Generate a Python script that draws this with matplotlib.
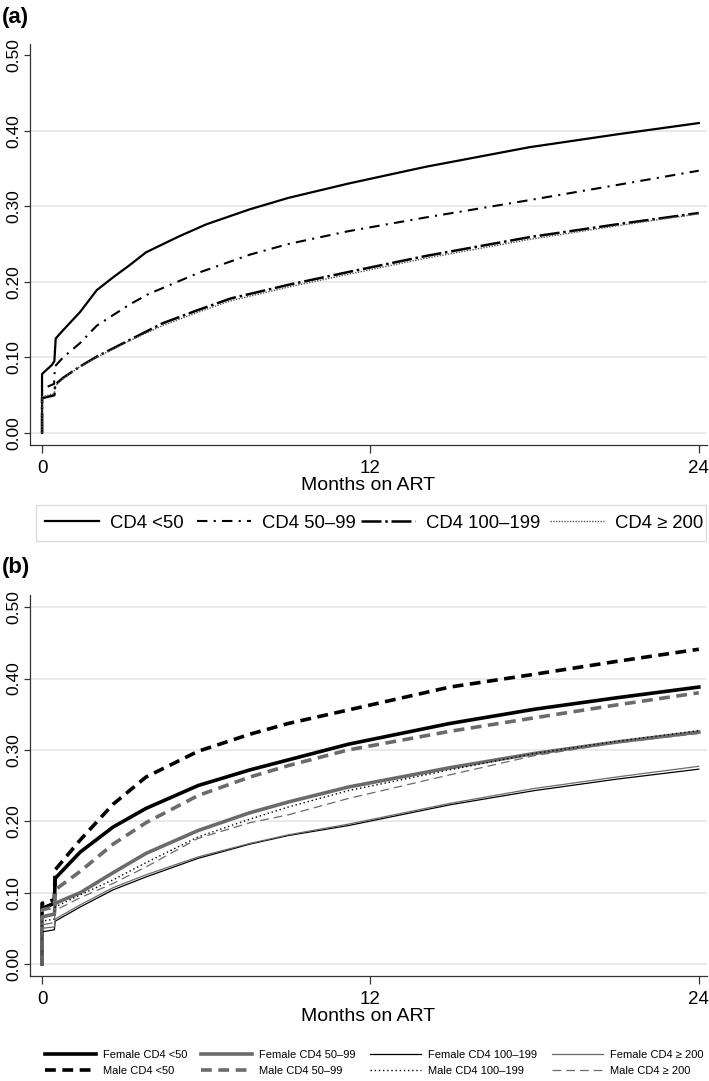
import numpy as np
import matplotlib
matplotlib.use("Agg")
import matplotlib.pyplot as plt
from matplotlib.patches import Rectangle

plt.rcParams['font.family'] = ['Liberation Sans', 'DejaVu Sans']

# ---- panel (a): cumulative incidence by baseline CD4 ----
m_lt50 = [0, 0, 0.36, 0.45, 0.5, 0.77, 1.39, 2.0, 2.6, 3.2, 3.8, 5.0, 6.0, 7.6, 9.0, 11.2, 14.0, 17.8, 21.0, 24.0]
v_lt50 = [0, 0.078, 0.09, 0.095, 0.125, 0.136, 0.16, 0.189, 0.206, 0.222, 0.239, 0.260, 0.276, 0.296, 0.311, 0.330, 0.352, 0.378, 0.395, 0.410]

m_50_99 = [0, 0, 0.44, 0.47, 0.77, 1.39, 2.0, 3.2, 3.9, 5.8, 7.6, 9.0, 11.2, 14.0, 17.8, 21.0, 24.0]
v_50_99 = [0, 0.058, 0.065, 0.088, 0.10, 0.119, 0.142, 0.170, 0.184, 0.213, 0.236, 0.250, 0.267, 0.285, 0.308, 0.328, 0.347]

m_100_199 = [0, 0, 0.45, 0.48, 0.77, 1.39, 2.0, 3.2, 4.4, 5.65, 6.9, 9.0, 11.2, 14.0, 17.8, 21.0, 24.0]
v_100_199 = [0, 0.046, 0.05, 0.064, 0.073, 0.088, 0.101, 0.123, 0.145, 0.162, 0.178, 0.196, 0.213, 0.234, 0.259, 0.276, 0.291]
v_ge200 = [0, 0.048, 0.052, 0.062, 0.072, 0.088, 0.100, 0.122, 0.142, 0.159, 0.175, 0.193, 0.210, 0.231, 0.256, 0.274, 0.290]

# ---- panel (b): by sex and baseline CD4 ----
mb = [0, 0, 0.45, 0.48, 1.4, 2.6, 3.8, 5.7, 7.6, 9.0, 11.2, 14.9, 18.0, 21.0, 24.0]
f_lt50 = [0, 0.078, 0.085, 0.12, 0.157, 0.192, 0.218, 0.250, 0.272, 0.286, 0.308, 0.337, 0.357, 0.373, 0.388]
m_lt50b = [0, 0.085, 0.09, 0.132, 0.174, 0.224, 0.262, 0.298, 0.322, 0.337, 0.356, 0.388, 0.406, 0.424, 0.441]
f_50_99 = [0, 0.066, 0.07, 0.085, 0.10, 0.128, 0.155, 0.187, 0.212, 0.227, 0.248, 0.275, 0.295, 0.311, 0.325]
m_50_99b = [0, 0.076, 0.08, 0.104, 0.13, 0.168, 0.198, 0.236, 0.262, 0.278, 0.300, 0.326, 0.345, 0.363, 0.380]
f_100_199 = [0, 0.045, 0.048, 0.06, 0.08, 0.104, 0.122, 0.148, 0.168, 0.18, 0.194, 0.223, 0.243, 0.259, 0.273]
m_100_199b = [0, 0.06, 0.063, 0.08, 0.097, 0.118, 0.142, 0.178, 0.203, 0.22, 0.243, 0.272, 0.295, 0.312, 0.327]
f_ge200 = [0, 0.05, 0.052, 0.063, 0.083, 0.107, 0.125, 0.15, 0.169, 0.181, 0.196, 0.225, 0.246, 0.262, 0.277]
m_ge200b = [0, 0.055, 0.058, 0.075, 0.093, 0.113, 0.136, 0.176, 0.198, 0.209, 0.232, 0.265, 0.292, 0.31, 0.323]

yticks = [0.0, 0.1, 0.2, 0.3, 0.4, 0.5]
xticks = [0, 12, 24]

GRAY = '#6b6b6b'

fig = plt.figure(figsize=(7.09, 10.81), dpi=100)
W, H = 709, 1081


def px_axes(x0, y0, x1, y1):
    return fig.add_axes([x0 / W, 1 - y1 / H, (x1 - x0) / W, (y1 - y0) / H])


def style(ax, ylo, yhi, grid_vals):
    ax.set_xlim(-0.44, 24.3)
    ax.set_ylim(ylo, yhi)
    for g in grid_vals:
        ax.axhline(g, color='#e4e4e4', lw=1.1, zorder=0)
    for s in ['top', 'right']:
        ax.spines[s].set_visible(False)
    for s in ['left', 'bottom']:
        ax.spines[s].set_color('#333333')
        ax.spines[s].set_linewidth(0.9)
    ax.set_yticks(yticks)
    ax.set_yticklabels(['%.2f' % t for t in yticks], rotation=90, va='center', fontsize=12.5)
    ax.set_xticks(xticks)
    ax.set_xticklabels([str(t) for t in xticks], fontsize=13.5)
    ax.tick_params(axis='y', length=4, width=0.9, color='#333333', pad=2)
    ax.tick_params(axis='x', length=6, width=0.9, color='#333333', pad=5)
    ax.set_xlabel('Months on ART', fontsize=14, labelpad=0)


def legend_columns(handles, labels, per_col, xs, y, **kw):
    # one small legend per column so each column sits where it does in the original
    for i, x in enumerate(xs):
        fig.legend(handles[i * per_col:(i + 1) * per_col], labels[i * per_col:(i + 1) * per_col],
                   loc='center left', bbox_to_anchor=(x / W, 1 - y / H),
                   frameon=False, borderaxespad=0, borderpad=0, **kw)


# panel (a)
ax1 = px_axes(30, 44, 707, 445)
style(ax1, -0.0159, 0.5146, yticks[:-1])
ax1.plot(m_lt50, v_lt50, color='black', lw=1.6, ls='-', label='CD4 <50')
ax1.plot(m_50_99, v_50_99, color='black', lw=1.5, ls=(0, (5, 3, 1, 3)), label='CD4 50\u201399')
ax1.plot(m_100_199, v_100_199, color='black', lw=1.8, ls=(0, (8, 1.5, 1, 1.5)), label='CD4 100\u2013199')
ax1.plot(m_100_199, v_ge200, color='#555555', lw=1.0, ls=(0, (1, 1)), label='CD4 \u2265 200')

fig.patches.append(Rectangle((36 / W, 1 - 541 / H), 670 / W, 36 / H, transform=fig.transFigure,
                             facecolor='white', edgecolor='#dcdcdc', lw=1.0, zorder=0))
h1, l1 = ax1.get_legend_handles_labels()
legend_columns(h1, l1, 1, [45, 197, 361, 550], 523,
               fontsize=13.3, handlelength=2.95, handletextpad=0.55)

fig.text(2 / W, 1 - 18 / H, '(a)', fontsize=16, fontweight='bold', va='center', ha='left')

# panel (b)
ax2 = px_axes(30, 595, 707, 976)
style(ax2, -0.0168, 0.517, yticks)
ax2.plot(mb, f_lt50, color='black', lw=2.6, ls='-', label='Female CD4 <50')
ax2.plot(mb, m_lt50b, color='black', lw=2.6, ls=(0, (3, 1.8)), label='Male CD4 <50')
ax2.plot(mb, f_50_99, color=GRAY, lw=2.6, ls='-', label='Female CD4 50\u201399')
ax2.plot(mb, m_50_99b, color=GRAY, lw=2.6, ls=(0, (3, 1.8)), label='Male CD4 50\u201399')
ax2.plot(mb, f_100_199, color='black', lw=0.9, ls='-', label='Female CD4 100\u2013199')
ax2.plot(mb, m_100_199b, color='black', lw=1.0, ls=(0, (1, 2)), label='Male CD4 100\u2013199')
ax2.plot(mb, f_ge200, color=GRAY, lw=0.9, ls='-', label='Female CD4 \u2265 200')
ax2.plot(mb, m_ge200b, color=GRAY, lw=0.9, ls=(0, (7, 4)), label='Male CD4 \u2265 200')

h2, l2 = ax2.get_legend_handles_labels()
legend_columns(h2, l2, 2, [45, 201, 370, 552], 1063,
               fontsize=8, handlelength=4.6, handletextpad=0.6, labelspacing=0.6)

fig.text(2 / W, 1 - 568 / H, '(b)', fontsize=16, fontweight='bold', va='center', ha='left')

fig.savefig('out.png', dpi=100)
